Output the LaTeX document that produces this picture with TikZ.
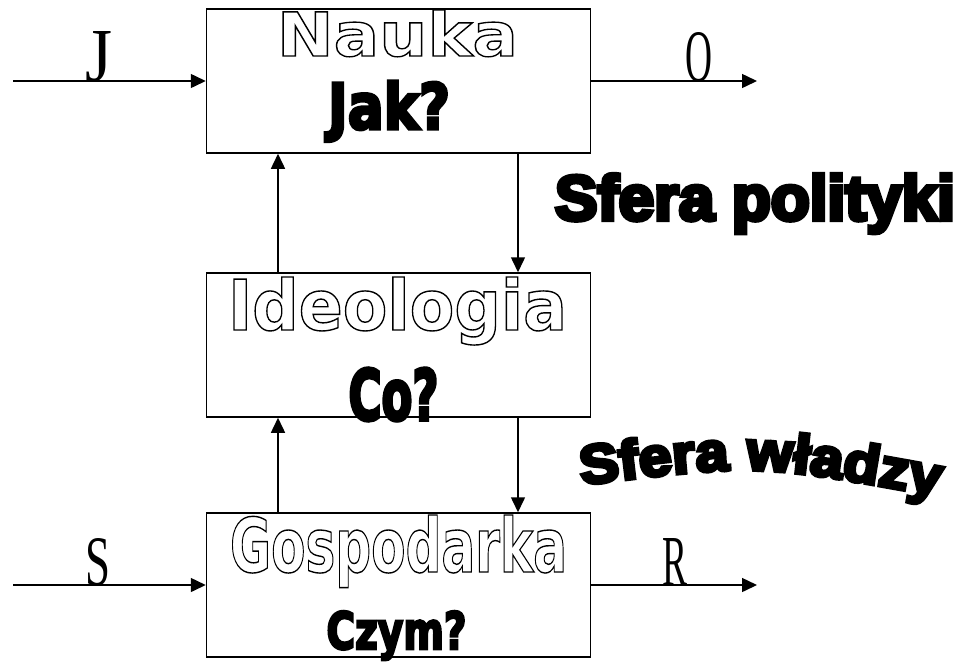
\documentclass[tikz,border=0pt]{standalone}
\usepackage{fontspec}
\setmainfont{Liberation Serif}
\newfontfamily\lsb{DejaVu Sans}
\newfontfamily\imp{DejaVu Sans}[BoldFeatures={FakeBold=5}]
\newfontfamily\sfp{Liberation Sans}[BoldFeatures={FakeBold=7}]
\newfontfamily\sfw{Liberation Sans}[BoldFeatures={FakeBold=7,FakeStretch=1.08}]
\usetikzlibrary{arrows.meta,decorations.text}
\newcommand\outl[1]{\special{pdf:literal direct 1 g 0 G 2 Tr 1.4 w}#1\special{pdf:literal direct 0 g 0 G 0 Tr}}
\newcommand\wlfont{\sfw\bfseries\fontsize{55pt}{60pt}\selectfont}
\tikzset{
  blk/.style={draw, line width=1.5pt, minimum width=384pt, minimum height=144pt, inner sep=0pt},
  arr/.style={line width=1.5pt, -{Triangle[length=15pt,width=14pt]}},
  txt/.style={anchor=base, inner sep=0pt, outer sep=0pt},
}
\begin{document}
\begin{tikzpicture}[x=1pt,y=-1pt]
\path[use as bounding box] (0,0) rectangle (963,662);
% boxes
\node[blk] (nauka) at (398.5,81) {};
\node[blk] (ideo) at (398.5,345) {};
\node[blk] (gosp) at (398.5,585) {};
% free ends
\coordinate (jin) at (13,81);
\coordinate (oout) at (757,81);
\coordinate (sin) at (13,585);
\coordinate (rout) at (757,585);
\coordinate (ux) at (278,0);
\coordinate (dx) at (518,0);
% connectors
\draw[arr] (jin) -- (nauka.west);
\draw[arr] (nauka.east) -- (oout);
\draw[arr] (sin) -- (gosp.west);
\draw[arr] (gosp.east) -- (rout);
\draw[arr] (ideo.north -| ux) -- (nauka.south -| ux);
\draw[arr] (nauka.south -| dx) -- (ideo.north -| dx);
\draw[arr] (gosp.north -| ux) -- (ideo.south -| ux);
\draw[arr] (ideo.south -| dx) -- (gosp.north -| dx);
% outlined titles
\node[txt] (tnauka) at (397.5,56) {\outl{\resizebox{241pt}{46pt}{\lsb\bfseries\fontsize{64pt}{70pt}\selectfont Nauka}}};
\node[txt] (tideo) at (397.5,330) {\outl{\resizebox{339pt}{53pt}{\lsb\bfseries\fontsize{70pt}{78pt}\selectfont Ideologia}}};
\node[txt] (tgosp) at (398.5,572) {\outl{\resizebox{337pt}{57pt}{\lsb\bfseries\fontsize{75pt}{82pt}\selectfont Gospodarka}}};
% letter labels
\node[txt] (lj) at (98.5,81) {\resizebox{27pt}{50pt}{\fontsize{75pt}{80pt}\selectfont J}};
\node[txt] (lo) at (698.5,81) {\resizebox{27pt}{49pt}{\fontsize{74pt}{80pt}\selectfont O}};
\node[txt] (ls) at (97.5,585) {\resizebox{25pt}{47pt}{\fontsize{71pt}{76pt}\selectfont S}};
\node[txt] (lr) at (674.5,585) {\resizebox{25pt}{47pt}{\fontsize{71pt}{76pt}\selectfont R}};
% heavy questions
\node[txt] (qjak) at (389,129) {\resizebox{122pt}{48pt}{\imp\bfseries\fontsize{66pt}{72pt}\selectfont Jak?}};
\node[txt] (qco) at (393.5,420) {\resizebox{90pt}{52pt}{\imp\bfseries\fontsize{72pt}{78pt}\selectfont Co?}};
\node[txt] (qczym) at (396.5,649) {\resizebox{140pt}{38pt}{\imp\bfseries\fontsize{54pt}{60pt}\selectfont Czym?}};
% spheres
\node[txt] (spol) at (755,220) {\resizebox{400pt}{46pt}{\sfp\bfseries\fontsize{67pt}{70pt}\selectfont Sfera polityki}};
\coordinate (wa) at (572,486);
\coordinate (wc) at (757,463);
\coordinate (wb) at (948,498);
\path[decorate, decoration={text along path, text={|\wlfont|Sfera władzy}, text align=center}] (wa) .. controls (wc) .. (wb);
\end{tikzpicture}
\end{document}
